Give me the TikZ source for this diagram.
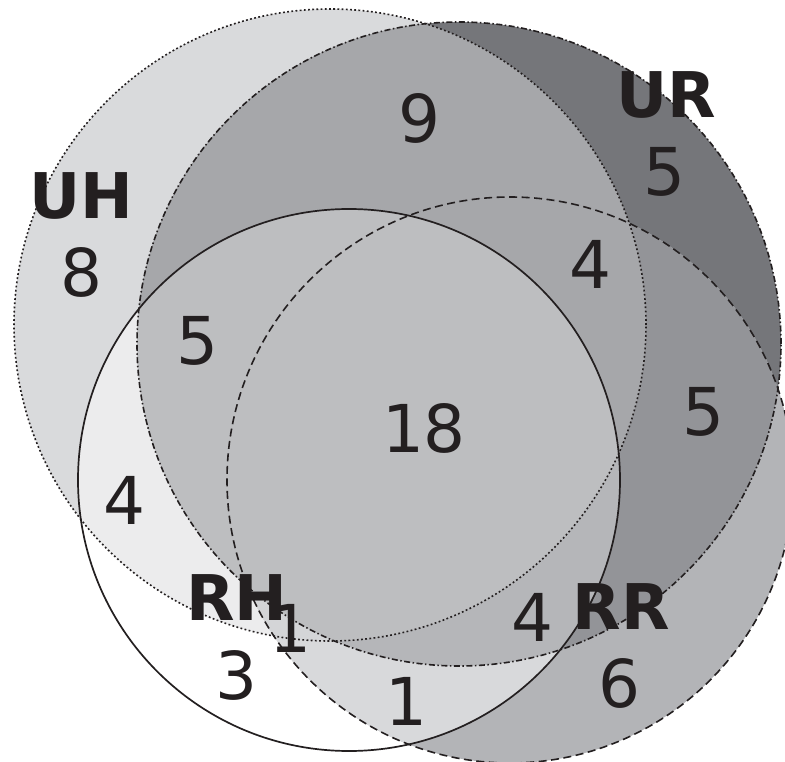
\documentclass[tikz,border=0pt]{standalone}
\usepackage{fontspec}
\setmainfont{DejaVu Sans}
\definecolor{ink}{HTML}{231F20}
\definecolor{cH}{HTML}{D9DADC}
\definecolor{cU}{HTML}{75767A}
\definecolor{cI}{HTML}{FFFFFF}
\definecolor{cR}{HTML}{B3B4B7}
\definecolor{cHU}{HTML}{A6A7AA}
\definecolor{cHI}{HTML}{ECECED}
\definecolor{cHR}{HTML}{A6A7AA}
\definecolor{cUI}{HTML}{BDBEC0}
\definecolor{cUR}{HTML}{939498}
\definecolor{cIR}{HTML}{D8D9DB}
\definecolor{cHUI}{HTML}{BDBEC0}
\definecolor{cHUR}{HTML}{A6A7AA}
\definecolor{cHIR}{HTML}{D4D5D7}
\definecolor{cUIR}{HTML}{B5B6B9}
\definecolor{cHUIR}{HTML}{BDBEC0}
\def\circH{(330,325) circle[radius=316pt]}
\def\circU{(459,344) circle[radius=322pt]}
\def\circI{(349,480) circle[radius=271pt]}
\def\circR{(510,480) circle[radius=283pt]}
\tikzset{
  num/.style={inner sep=0pt, text=ink, font=\fontsize{66}{79}\selectfont},
  setlabel/.style={num, font=\fontsize{63}{75}\selectfont\bfseries},
  lineH/.style={draw=ink, line width=1.6pt, dash pattern=on 1.8pt off 2.4pt},
  lineU/.style={draw=ink, line width=1.6pt, dash pattern=on 6pt off 2.5pt on 1.5pt off 2.5pt},
  lineI/.style={draw=ink, line width=1.7pt},
  lineR/.style={draw=ink, line width=1.6pt, dash pattern=on 8pt off 4.5pt},
}
\begin{document}
\begin{tikzpicture}[x=1pt,y=-1pt]
\clip (0,0) rectangle (785,762);
\fill[white] (0,0) rectangle (785,762);
% singles
\begin{scope}\clip \circH; \fill[cH] (0,0) rectangle (785,762);\end{scope}
\begin{scope}\clip \circU; \fill[cU] (0,0) rectangle (785,762);\end{scope}
\begin{scope}\clip \circI; \fill[cI] (0,0) rectangle (785,762);\end{scope}
\begin{scope}\clip \circR; \fill[cR] (0,0) rectangle (785,762);\end{scope}
% pairs
\begin{scope}\clip \circH; \clip \circU; \fill[cHU] (0,0) rectangle (785,762);\end{scope}
\begin{scope}\clip \circH; \clip \circI; \fill[cHI] (0,0) rectangle (785,762);\end{scope}
\begin{scope}\clip \circH; \clip \circR; \fill[cHR] (0,0) rectangle (785,762);\end{scope}
\begin{scope}\clip \circU; \clip \circI; \fill[cUI] (0,0) rectangle (785,762);\end{scope}
\begin{scope}\clip \circU; \clip \circR; \fill[cUR] (0,0) rectangle (785,762);\end{scope}
\begin{scope}\clip \circI; \clip \circR; \fill[cIR] (0,0) rectangle (785,762);\end{scope}
% triples
\begin{scope}\clip \circH; \clip \circU; \clip \circI; \fill[cHUI] (0,0) rectangle (785,762);\end{scope}
\begin{scope}\clip \circH; \clip \circU; \clip \circR; \fill[cHUR] (0,0) rectangle (785,762);\end{scope}
\begin{scope}\clip \circH; \clip \circI; \clip \circR; \fill[cHIR] (0,0) rectangle (785,762);\end{scope}
\begin{scope}\clip \circU; \clip \circI; \clip \circR; \fill[cUIR] (0,0) rectangle (785,762);\end{scope}
% all four
\begin{scope}\clip \circH; \clip \circU; \clip \circI; \clip \circR; \fill[cHUIR] (0,0) rectangle (785,762);\end{scope}
% outlines
\draw[lineH] \circH;
\draw[lineU] \circU;
\draw[lineI] \circI;
\draw[lineR] \circR;
% labels
\node[setlabel] (lUH) at (81,196) {UH};
\node[setlabel] (lUR) at (666,95) {UR};
\node[setlabel] (lRH) at (237,598) {RH};
\node[setlabel] (lRR) at (621,607) {RR};
\node[num] (n8) at (81,272) {8};
\node[num] (n9) at (419,118) {9};
\node[num] (n5a) at (664,172) {5};
\node[num] (n4a) at (590,264) {4};
\node[num] (n5b) at (197,341) {5};
\node[num] (n18) at (424,428) {18};
\node[num] (n5c) at (703,412) {5};
\node[num] (n4b) at (124,500) {4};
\node[num] (n1a) at (290,628) {1};
\node[num] (n3) at (236,675) {3};
\node[num] (n1b) at (406,701) {1};
\node[num] (n4c) at (532,617) {4};
\node[num] (n6) at (619,683) {6};
\end{tikzpicture}
\end{document}
